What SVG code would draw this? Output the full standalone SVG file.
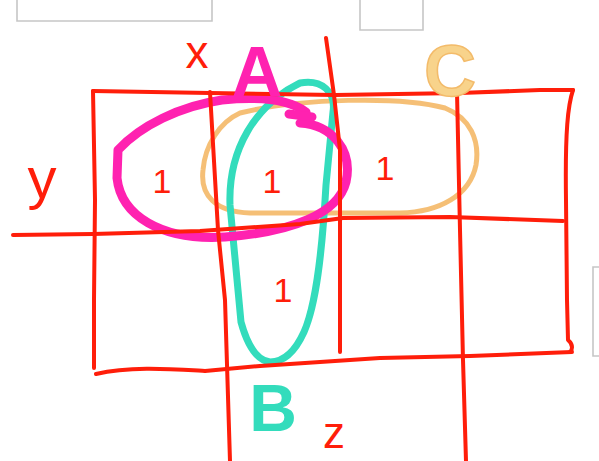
<svg xmlns="http://www.w3.org/2000/svg" width="599" height="461" viewBox="0 0 599 461">
<style>
.frame{fill:none;stroke:#c6c6c6;stroke-width:1.6}
.grid{fill:none;stroke:#ff1e0a;stroke-width:4;stroke-linecap:round;stroke-linejoin:round}
.mag{fill:none;stroke:#ff22b0;stroke-width:9;stroke-linecap:round;stroke-linejoin:round}
.teal{fill:none;stroke:#33dcbc;stroke-width:7;stroke-linecap:round}
.orng{fill:none;stroke:#f3b45e;stroke-width:5;opacity:0.85}
.lbl{font-family:"Liberation Sans",Arial,sans-serif;text-anchor:middle}
.red{fill:#ff1e0a}
.one{font-family:"Liberation Sans",Arial,sans-serif;font-size:34px;fill:#ff1e0a;text-anchor:middle}
</style>
<rect width="599" height="461" fill="#ffffff"/>
<g id="frames">
<path class="frame" d="M17,0 V21 H212 V0"/>
<path class="frame" d="M360,0 V30 H423 V0"/>
<path class="frame" d="M599,267 H593 V356 H599"/>
</g>
<g id="loops">
<path id="loopC" class="orng" d="M240,113 C300,98 400,96 445,108 C470,118 480,140 476,165 C470,195 440,212 400,213 L250,213 C215,212 200,195 203,170 C205,145 220,122 240,113 Z"/>
<path id="loopB" class="teal" d="M300,83 C322,79 336,92 333,112 L326,185 C322,255 316,305 304,332 C294,354 282,362 270,362 C256,360 247,344 241,322 L230,205 C228,150 255,105 300,83 Z"/>
<path id="loopA" class="mag" d="M300,123 C332,125 353,150 346,182 C338,214 292,232 225,237 C160,241 121,215 117,178 L118,150 C140,126 180,106 222,100 C262,96 290,100 306,112"/>
<path class="mag" d="M289,114 L312,117" stroke-width="7"/>
</g>
<g id="grid">
<path class="grid" d="M93,91 L210,93 L335,95 L460,93 L540,90 L573,90"/>
<path class="grid" d="M93,91 L95,200 L94,300 L94,368"/>
<path class="grid" d="M13,235 L93,234 L200,231 L300,224 L343,218 L450,217 L563,221"/>
<path class="grid" d="M573,90 C568,105 565,130 566,200 L567,300 L568,340 C574,345 572,350 570,352"/>
<path class="grid" d="M96,374 C130,366 170,369 205,371 L260,366 L380,358 L470,356 L572,352"/>
<path class="grid" d="M210,92 L218,230 L225,300 L230,461"/>
<path class="grid" d="M326,38 L334,95 L340,150 L340,352"/>
<path class="grid" d="M457,92 L460,230 L463,360 L466,461"/>
</g>
<g id="labels">
<text class="lbl red" x="197" y="68" font-size="46">x</text>
<text class="lbl red" x="42" y="198" font-size="58">y</text>
<text class="lbl red" x="334" y="448" font-size="44">z</text>
<text class="lbl" x="257" y="96" font-size="70" font-weight="bold" fill="#ff22b0">A</text>
<text class="lbl" x="273" y="431" font-size="66" font-weight="bold" fill="#33dcbc">B</text>
<text class="lbl" x="450" y="96" font-size="72" font-weight="bold" fill="#f8d38b" stroke="#f3bb6a" stroke-width="1.5">C</text>
</g>
<g id="cells">
<text class="one" x="162" y="193">1</text>
<text class="one" x="272" y="193">1</text>
<text class="one" x="385" y="180">1</text>
<text class="one" x="283" y="302">1</text>
</g>
</svg>
